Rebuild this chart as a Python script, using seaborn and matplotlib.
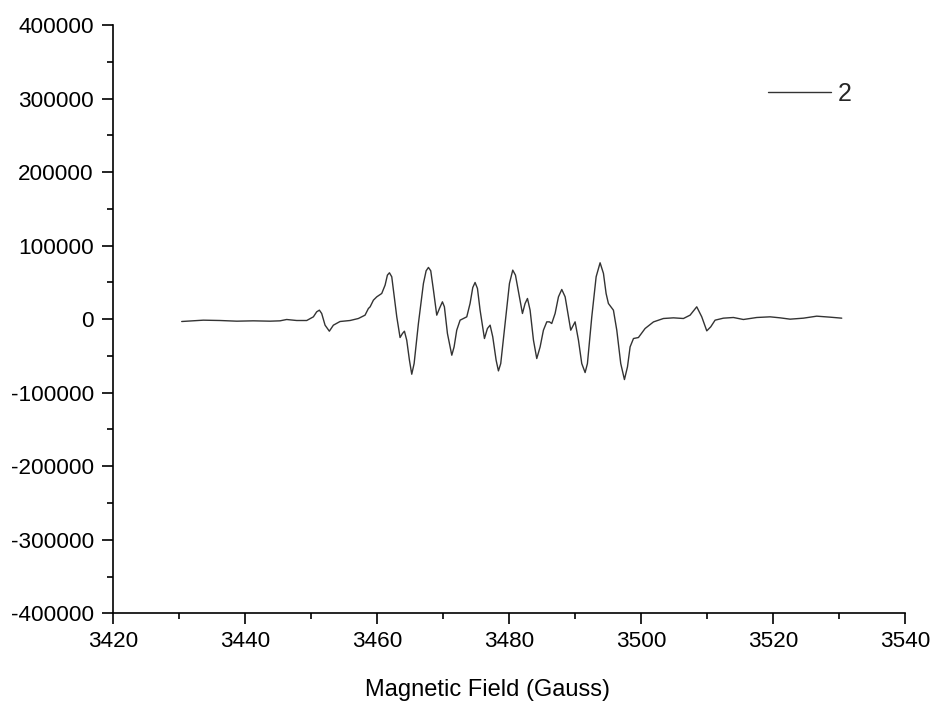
import numpy as np
import pandas as pd
import matplotlib
matplotlib.use("Agg")
import matplotlib.pyplot as plt
import seaborn as sns
from matplotlib.ticker import AutoMinorLocator

# Magnetic field (Gauss)
field = [
    3430.36, 3432.13, 3433.64, 3436.17, 3438.70, 3441.22, 3443.75, 3445.26, 3446.27, 3447.79,
    3449.31, 3450.32, 3450.82, 3451.23, 3451.58, 3452.09, 3452.74, 3453.35, 3454.36, 3455.88,
    3457.14, 3458.15, 3458.66, 3458.92, 3459.42, 3459.93, 3460.68, 3461.19, 3461.54, 3461.85,
    3462.20, 3462.45, 3462.96, 3463.46, 3463.82, 3464.12, 3464.47, 3464.88, 3465.23, 3465.59,
    3466.24, 3467.00, 3467.41, 3467.76, 3468.11, 3468.52, 3469.02, 3469.43, 3469.88, 3470.18,
    3470.64, 3471.30, 3471.65, 3472.05, 3472.56, 3473.06, 3473.57, 3474.07, 3474.48, 3474.83,
    3475.19, 3475.59, 3476.25, 3476.70, 3477.11, 3477.51, 3478.02, 3478.37, 3478.72, 3479.38,
    3480.04, 3480.54, 3480.95, 3481.45, 3482.01, 3482.41, 3482.77, 3483.17, 3483.68, 3484.18,
    3484.69, 3485.19, 3485.70, 3486.10, 3486.45, 3486.96, 3487.47, 3487.97, 3488.48, 3488.98,
    3489.33, 3489.99, 3490.50, 3491.00, 3491.51, 3491.86, 3492.52, 3493.18, 3493.78, 3494.29,
    3494.69, 3495.04, 3495.80, 3496.31, 3496.91, 3497.47, 3497.93, 3498.33, 3498.84, 3499.59,
    3500.60, 3501.87, 3503.38, 3504.90, 3506.41, 3507.42, 3508.43, 3509.19, 3509.95, 3510.55,
    3511.21, 3512.47, 3513.99, 3515.50, 3517.53, 3519.55, 3521.06, 3522.58, 3524.60, 3526.62,
    3528.64, 3530.41,
]

# Signal intensity
signal = [
    -3180, -2270, -1370, -1820, -2730, -2270, -2730, -2270, -460, -1820,
    -1820, 3170, 9980, 12250, 7710, -8170, -16340, -8170, -3180, -1820,
    900, 5440, 14520, 16780, 25850, 30390, 34930, 46270, 59880, 63060,
    57610, 39470, 3170, -24960, -19520, -16340, -28590, -55810, -74870, -60350,
    -5900, 48540, 65780, 70320, 65780, 39470, 5440, 14510, 23580, 16780,
    -19520, -49010, -37670, -14980, -1370, 900, 3170, 21320, 43000, 49900,
    41730, 12240, -26320, -12710, -8170, -24050, -55810, -70330, -60350, -5900,
    48540, 66690, 59880, 34930, 7710, 21320, 28120, 12240, -28590, -53540,
    -37670, -14980, -3640, -3640, -5900, 7710, 30390, 40370, 30390, 3170,
    -14980, -3640, -28590, -60350, -72600, -60350, 3170, 57610, 76670, 62150,
    34930, 21320, 12240, -14980, -60350, -82130, -64890, -37670, -26320, -24960,
    -12710, -3730, 900, 1800, 900, 5440, 16780, 3170, -15880, -10440,
    -1370, 1360, 2270, -460, 2270, 3170, 1810, 0, 1360, 4080,
    2720, 1360,
]

series_label = "2"
x_label = "Magnetic Field (Gauss)"
x_ticks = [3420, 3440, 3460, 3480, 3500, 3520, 3540]
y_ticks = [-400000, -300000, -200000, -100000, 0, 100000, 200000, 300000, 400000]

df = pd.DataFrame({"field": field, "signal": signal, "series": series_label})

sns.set_style("ticks")
plt.rcParams["font.family"] = ["Liberation Sans", "DejaVu Sans"]

fig = plt.figure(figsize=(9.33, 7.02), dpi=100)
ax = fig.add_axes([0.1215, 0.1263, 0.8485, 0.8381])

sns.lineplot(data=df, x="field", y="signal", hue="series", palette=["#333333"],
             linewidth=1.0, ax=ax, sort=False, estimator=None)

ax.set_xlim(3420, 3540)
ax.set_ylim(-400000, 400000)
ax.set_xticks(x_ticks)
ax.set_yticks(y_ticks)
ax.set_xticklabels([str(v) for v in x_ticks])
ax.set_yticklabels([str(v) for v in y_ticks])
ax.xaxis.set_minor_locator(AutoMinorLocator(2))
ax.yaxis.set_minor_locator(AutoMinorLocator(2))

for s in ["top", "right"]:
    ax.spines[s].set_visible(False)
for s in ["left", "bottom"]:
    ax.spines[s].set_linewidth(1.2)
    ax.spines[s].set_color("black")

ax.tick_params(axis="both", which="major", direction="out", length=8, width=1.2,
               color="black", labelsize=16.2, labelcolor="black")
ax.tick_params(axis="both", which="minor", direction="out", length=4.5, width=1.2,
               color="black")
ax.tick_params(axis="y", which="major", pad=6)
ax.tick_params(axis="x", which="major", pad=5)

ax.set_xlabel(x_label, fontsize=17, color="black")
ax.xaxis.set_label_coords(0.472, -0.1406)
ax.xaxis.label.set_va("baseline")
ax.set_ylabel("")

leg = ax.legend(loc="center left", bbox_to_anchor=(0.827, 0.883), frameon=False,
                fontsize=18, handlelength=2.5, handletextpad=0.3,
                borderpad=0, borderaxespad=0)
for line in leg.get_lines():
    line.set_linewidth(1.0)

fig.savefig("out.png", dpi=100)
